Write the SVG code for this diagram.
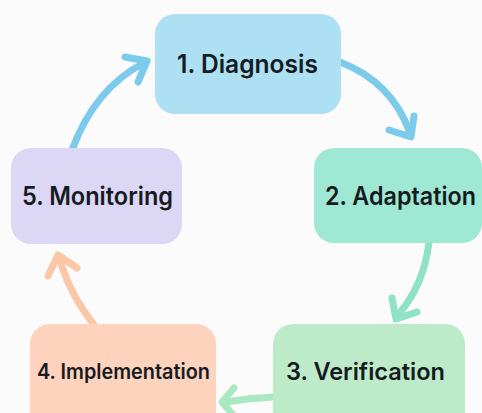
<svg xmlns="http://www.w3.org/2000/svg" width="482" height="413" viewBox="0 0 482 413">
  <style>
    .box { stroke: none; }
    .label { font-family: Inter, "Open Sans", "Liberation Sans", sans-serif; font-weight: 600; fill: #161b21; text-anchor: start; }
    .link { fill: none; stroke-width: 7; stroke-linecap: round; stroke-linejoin: round; }
    .blue { stroke: #7ccbea; }
    .mint { stroke: #8fe2c6; }
    .green { stroke: #a9e8c0; }
    .peach { stroke: #fcc7a7; }
  </style>
  <rect width="482" height="413" fill="#fbfbfb"/>

  <g id="connectors">
    <!-- Monitoring to Diagnosis -->
    <path class="link blue" d="M72,150 Q95,88 144,63"/>
    <path class="link blue" d="M125,57 L147,61 L138,82"/>
    <!-- Diagnosis to Adaptation -->
    <path class="link blue" d="M340,62 Q392,82 410,133"/>
    <path class="link blue" d="M389,130 L411,137 L414,116"/>
    <!-- Adaptation to Verification -->
    <path class="link mint" d="M429,242 Q424,285 398,315"/>
    <path class="link mint" d="M392,298 L396,319 L417,312"/>
    <!-- Verification to Implementation -->
    <path class="link green" d="M274,397 Q250,398 225,402"/>
    <path class="link green" d="M234,388 L222,402 L234,416"/>
    <!-- Implementation to Monitoring -->
    <path class="link peach" d="M95,326 Q70,295 60,260"/>
    <path class="link peach" d="M48,276 L58,255 L77,268"/>
  </g>

  <g id="diagnosis">
    <rect class="box" x="155" y="14" width="186" height="100" rx="20" fill="#ade0f3"/>
    <text class="label" x="177" y="73" font-size="25" textLength="141" lengthAdjust="spacingAndGlyphs">1. Diagnosis</text>
  </g>

  <g id="adaptation">
    <rect class="box" x="314" y="148" width="168" height="95" rx="20" fill="#9fe8d4"/>
    <text class="label" x="325" y="205" font-size="25" textLength="151" lengthAdjust="spacingAndGlyphs">2. Adaptation</text>
  </g>

  <g id="verification">
    <rect class="box" x="273" y="324" width="192" height="110" rx="20" fill="#bdebca"/>
    <text class="label" x="286" y="380" font-size="24" textLength="159" lengthAdjust="spacingAndGlyphs">3. Verification</text>
  </g>

  <g id="implementation">
    <rect class="box" x="30" y="324" width="186" height="110" rx="20" fill="#fdd3be"/>
    <text class="label" x="37" y="379" font-size="21" textLength="173" lengthAdjust="spacingAndGlyphs">4. Implementation</text>
  </g>

  <g id="monitoring">
    <rect class="box" x="11" y="148" width="171" height="96" rx="20" fill="#dcd7f5"/>
    <text class="label" x="22" y="205" font-size="25" textLength="151" lengthAdjust="spacingAndGlyphs">5. Monitoring</text>
  </g>
</svg>
